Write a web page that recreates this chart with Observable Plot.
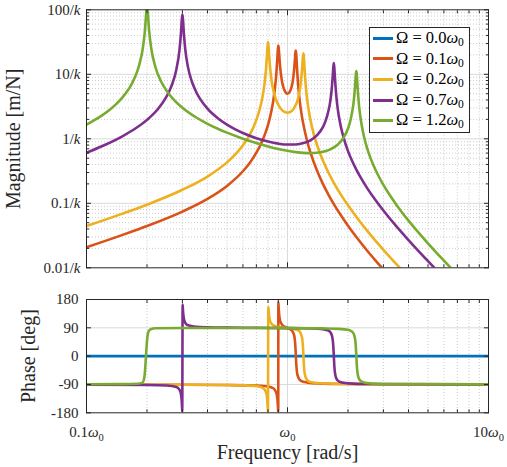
<!DOCTYPE html>
<html>
<head>
<meta charset="utf-8">
<script src="https://cdn.jsdelivr.net/npm/d3@7"></script>
<script src="https://cdn.jsdelivr.net/npm/@observablehq/plot@0.6"></script>
<style>
  html, body { margin: 0; padding: 0; background: #ffffff; }
  #wrap { position: relative; width: 507px; height: 467px; font-family: "Liberation Serif", "DejaVu Serif", "Times New Roman", serif; color: #262626; }
  #wrap svg { display: block; }
  #wrap svg text { font-family: "Liberation Serif", "DejaVu Serif", "Times New Roman", serif; }
  #legend { position: absolute; left: 369px; top: 27px; width: 101px; box-sizing: border-box; border: 1px solid #262626; background: #fff; padding-bottom: 1px; }
  .row { display: flex; align-items: center; height: 20.6px; }
  .sw { width: 20px; height: 3px; margin-left: 3px; margin-right: 3px; flex: none; }
  .lab { font-size: 16.5px; line-height: 1; white-space: nowrap; color: #000; }
  .lab sub { font-size: 0.7em; vertical-align: -0.25em; line-height: 0; }
</style>
</head>
<body>
<div id="wrap"><div id="mag"></div><div id="phase"></div><div id="legend"></div></div>
<script>
// ---------- data ----------
const omegaLabels = ["0.0", "0.1", "0.2", "0.7", "1.2"];
const colors = ["#0072BD", "#D95319", "#EDB120", "#7E2F8E", "#77AC30"];

// magnitude (units of 1/k) vs frequency (units of w0); Omega = 0 has zero coupling (not drawn on log axis)
const freqMag01 = [0.1,0.15,0.2,0.3,0.4,0.5,0.6,0.65,0.7,0.75,0.775,0.8,0.825,0.85,0.865,0.88,0.89,0.895,0.9,0.905,0.91,0.92,0.935,0.95,0.975,1.0,1.025,1.05,1.065,1.08,1.09,1.095,1.1,1.105,1.11,1.12,1.135,1.15,1.175,1.2,1.25,1.3,1.4,1.5,1.6,1.7,1.85,2.0,2.25,2.5,2.75,3.0];
const mag01 = [0.0208,0.0321,0.0444,0.0744,0.117,0.186,0.314,0.426,0.608,0.936,1.215,1.65,2.409,3.92,5.87,10.3,17.7,23.8,28,25.1,19.6,12.7,8.39,6.58,5.35,5.0,5.34,6.52,8.28,12.2,17.9,21.7,23.4,20.7,16.3,10.0,5.81,3.9,2.391,1.66,0.9425,0.616,0.325,0.2,0.1355,0.0973,0.064,0.0449,0.02747,0.0182,0.01282,0.0094];

const freqMag02 = [0.1,0.15,0.2,0.3,0.4,0.5,0.55,0.6,0.65,0.675,0.7,0.725,0.75,0.765,0.78,0.79,0.795,0.8,0.805,0.81,0.82,0.835,0.85,0.875,0.9,0.95,1.0,1.05,1.1,1.125,1.15,1.165,1.18,1.19,1.195,1.2,1.205,1.21,1.22,1.235,1.25,1.275,1.3,1.35,1.4,1.5,1.6,1.7,1.85,2.0,2.25,2.5,2.75,3.0,3.5,3.7];
const mag02 = [0.0444,0.0686,0.0952,0.162,0.26,0.431,0.573,0.794,1.175,1.488,1.965,2.773,4.35,6.37,11.0,19.0,26.1,31.5,26.9,20.1,12.3,7.67,5.68,4.11,3.36,2.69,2.53,2.69,3.36,4.07,5.58,7.43,11.3,16.5,19.7,21.2,19.3,15.8,10.3,6.22,4.31,2.756,1.98,1.194,0.816,0.46,0.2976,0.208,0.1341,0.093,0.05618,0.0371,0.02595,0.019,0.0112,0.0093];

const freqMag07 = [0.1,0.12,0.15,0.175,0.2,0.225,0.25,0.265,0.28,0.29,0.295,0.298,0.3,0.302,0.305,0.31,0.32,0.335,0.35,0.4,0.45,0.5,0.55,0.6,0.7,0.8,0.9,1.0,1.1,1.2,1.3,1.4,1.5,1.55,1.6,1.625,1.65,1.665,1.68,1.69,1.7,1.71,1.72,1.735,1.75,1.775,1.8,1.85,1.9,2.0,2.1,2.2,2.35,2.5,2.75,3.0,3.5,4.0,4.5,5.0,5.5];
const mag07 = [0.608,0.7728,1.085,1.443,1.965,2.818,4.5,6.65,11.9,23.5,42.6,69.8,84.6,70.4,43.5,24.4,12.8,7.6,5.45,2.93,2.084,1.657,1.40,1.23,1.021,0.905,0.841,0.814,0.818,0.858,0.948,1.127,1.519,1.925,2.748,3.48,4.95,6.63,9.71,12.86,14.9,12.7,9.44,6.26,4.54,3.045,2.257,1.4595,1.05,0.645,0.4477,0.333,0.2301,0.169,0.1103,0.0772,0.043,0.0269,0.018,0.0127,0.0093];

const freqMag12 = [0.1,0.11,0.12,0.13,0.14,0.15,0.16,0.165,0.175,0.18,0.185,0.19,0.195,0.198,0.2,0.202,0.205,0.21,0.22,0.235,0.25,0.27,0.3,0.35,0.4,0.45,0.5,0.6,0.7,0.8,0.9,1.0,1.1,1.2,1.3,1.4,1.5,1.6,1.7,1.8,1.9,2.0,2.05,2.1,2.125,2.15,2.165,2.18,2.19,2.2,2.21,2.22,2.235,2.25,2.275,2.3,2.35,2.4,2.5,2.6,2.7,2.85,3.0,3.25,3.5,4.0,4.5,5.0,5.5,6.0,6.5];
const mag12 = [1.656,1.96,2.33,2.80,3.42,4.27,5.54,6.44,9.31,11.8,16.0,23.8,45.5,85.8,120,86.6,46.6,25.1,13.1,7.74,5.58,4.13,3.03,2.158,1.709,1.433,1.245,1.005,0.858,0.762,0.696,0.651,0.622,0.605,0.600,0.608,0.629,0.668,0.734,0.844,1.039,1.443,1.854,2.68,3.36,4.71,6.14,8.42,10.26,11.2,10.2,8.28,5.91,4.43,3.045,2.29,1.507,1.095,0.685,0.4837,0.365,0.2578,0.193,0.1295,0.0928,0.0539,0.03468,0.0239,0.0172,0.0129,0.0099];

// phase (deg) vs frequency
const freqPh00 = [0.1, 10];
const ph00 = [0, 0];

const freqPh01 = [0.1,0.3,0.5,0.7,0.8,0.85,0.88,0.89,0.895,0.8995,0.9005,0.905,0.91,0.92,0.95,1.0,1.05,1.08,1.09,1.095,1.1,1.105,1.11,1.12,1.15,1.2,1.3,1.5,2.0,3.0,10];
const ph01 = [-90.3,-90.8,-91.8,-93.4,-96.5,-102.1,-116.4,-134.4,-153.6,-177,171,148.1,129.3,111.4,96.7,89.5,81.9,65.2,46.2,28.1,3,-22.1,-40,-58.7,-75.4,-81.7,-85.2,-87.3,-88.5,-89.2,-89.8];

const freqPh02 = [0.1,0.3,0.5,0.6,0.7,0.75,0.78,0.79,0.795,0.7995,0.8025,0.805,0.81,0.82,0.85,0.9,1.0,1.1,1.15,1.18,1.19,1.195,1.2,1.205,1.21,1.22,1.25,1.3,1.4,1.6,2.0,3.0,10];
const ph02 = [-90.2,-90.8,-91.7,-92.7,-95.2,-99.9,-112.7,-129.7,-149.1,-178,156,146.4,126.8,110.5,97.7,92.9,89.5,85,78.2,60.9,41.7,24.3,1.3,-21.8,-39.1,-58.5,-75.2,-81.9,-85.2,-87.1,-88.3,-89.1,-89.8];

const freqPh07 = [0.1,0.2,0.25,0.28,0.29,0.295,0.298,0.2995,0.3008,0.302,0.305,0.31,0.32,0.35,0.4,0.5,0.7,1.0,1.2,1.4,1.5,1.6,1.65,1.68,1.69,1.7,1.71,1.72,1.75,1.8,1.9,2.0,2.5,10];
const ph07 = [-90.5,-91.5,-93.2,-98.3,-106.4,-120.6,-146.3,-176,164,145.4,119.9,106,98,93.4,91.6,90.7,90,89.2,88.6,87.3,85.6,80.8,71.7,50.4,31.2,0.4,-30.5,-49.8,-71,-80,-84.7,-86.4,-88.5,-89.8];

const freqPh12 = [0.1,0.15,0.18,0.19,0.193,0.195,0.197,0.199,0.201,0.204,0.21,0.22,0.3,0.5,1.0,1.5,1.8,2.0,2.1,2.15,2.18,2.19,2.2,2.21,2.22,2.25,2.3,2.4,2.6,3.0,10];
const ph12 = [-89.5,-89,-87.5,-84,-75,-55,-15,30,62,80,86.5,88.5,89.5,89.5,89.2,88.1,86.7,83.6,77.4,65.9,41.9,24.1,0,-24.3,-42.2,-66,-77.5,-83.5,-86.8,-88.5,-89.8];

// ticks
const xMajor = [0.1, 1, 10];
const xMinor = [0.2,0.3,0.4,0.5,0.6,0.7,0.8,0.9,2,3,4,5,6,7,8,9];
const yMajor = [0.01, 0.1, 1, 10, 100];
const yMinor = [0.02,0.03,0.04,0.05,0.06,0.07,0.08,0.09,0.2,0.3,0.4,0.5,0.6,0.7,0.8,0.9,2,3,4,5,6,7,8,9,20,30,40,50,60,70,80,90];
const phaseTicks = [-180, -90, 0, 90, 180];

// ---------- build ----------
const rows = (fs, vs) => fs.map((f, i) => ({f, v: vs[i]}));
const magSeries = [null, [freqMag01, mag01], [freqMag02, mag02], [freqMag07, mag07], [freqMag12, mag12]];
const phSeries = [[freqPh00, ph00], [freqPh01, ph01], [freqPh02, ph02], [freqPh07, ph07], [freqPh12, ph12]];

const LW = 2.6;
const TICK_FS = 15;
const LABEL_FS = 20;
const gridMinor = {stroke: "#bfbfbf", strokeOpacity: 1, strokeWidth: 0.8, strokeDasharray: "1,2"};
const gridMajor = {stroke: "#dadada", strokeOpacity: 1, strokeWidth: 1};
const font = "'Liberation Serif', 'DejaVu Serif', 'Times New Roman', serif";
const blank = () => "";

function frameTicks(xTicksMajor, xTicksMinor, yTicksMajor, yTicksMinor, yMinorToo) {
  const m = [
    Plot.axisX(xTicksMajor, {anchor: "bottom", tickSize: -5, tickFormat: blank, label: null}),
    Plot.axisX(xTicksMinor, {anchor: "bottom", tickSize: -3, tickFormat: blank, label: null}),
    Plot.axisX(xTicksMajor, {anchor: "top", tickSize: -5, tickFormat: blank, label: null}),
    Plot.axisX(xTicksMinor, {anchor: "top", tickSize: -3, tickFormat: blank, label: null}),
    Plot.axisY(yTicksMajor, {anchor: "right", tickSize: -5, tickFormat: blank, label: null})
  ];
  if (yMinorToo) {
    m.push(Plot.axisY(yTicksMinor, {anchor: "left", tickSize: -3, tickFormat: blank, label: null}));
    m.push(Plot.axisY(yTicksMinor, {anchor: "right", tickSize: -3, tickFormat: blank, label: null}));
  }
  return m;
}

const magPlot = Plot.plot({
  width: 507, height: 280,
  marginTop: 9.3, marginBottom: 12.7, marginLeft: 86, marginRight: 19,
  style: {fontFamily: font, fontSize: "16px", color: "#262626", background: "transparent", overflow: "visible"},
  x: {type: "log", domain: [0.1, 10]},
  y: {type: "log", domain: [0.01, 100]},
  marks: [
    Plot.gridX(xMinor, gridMinor),
    Plot.gridY(yMinor, gridMinor),
    Plot.gridX([1], gridMajor),
    Plot.gridY([0.1, 1, 10], gridMajor),
    ...magSeries.map((s, i) => s ? Plot.line(rows(s[0], s[1]), {x: "f", y: "v", stroke: colors[i], strokeWidth: LW, curve: "monotone-x", clip: true}) : null),
    Plot.frame({stroke: "#262626", strokeWidth: 1}),
    Plot.axisY(yMajor, {anchor: "left", tickSize: -5, tickPadding: 11, tickFormat: d => d + "/k", label: null, fontSize: TICK_FS, fill: "#262626"}),
    ...frameTicks(xMajor, xMinor, yMajor, yMinor, true),
    Plot.text(["Magnitude [m/N]"], {text: d => d, frameAnchor: "left", textAnchor: "middle", lineAnchor: "middle", rotate: -90, dx: -73, fontSize: LABEL_FS, fill: "#262626"})
  ]
});

const phPlot = Plot.plot({
  width: 507, height: 187,
  marginTop: 19, marginBottom: 54.7, marginLeft: 86, marginRight: 19,
  style: {fontFamily: font, fontSize: "16px", color: "#262626", background: "transparent", overflow: "visible"},
  x: {type: "log", domain: [0.1, 10]},
  y: {domain: [-180, 180]},
  marks: [
    Plot.gridX(xMinor, gridMinor),
    Plot.gridX([1], gridMajor),
    Plot.gridY([-90, 0, 90], gridMajor),
    ...phSeries.map((s, i) => Plot.line(rows(s[0], s[1]), {x: "f", y: "v", stroke: colors[i], strokeWidth: LW, curve: "monotone-x", clip: true})),
    Plot.frame({stroke: "#262626", strokeWidth: 1}),
    Plot.axisY(phaseTicks, {anchor: "left", tickSize: -5, tickPadding: 13, tickFormat: d => String(d), label: null, fontSize: TICK_FS, fill: "#262626"}),
    Plot.axisX(xMajor, {anchor: "bottom", tickSize: -5, tickPadding: 19, tickFormat: d => (d === 1 ? "" : d) + "ω0", label: null, fontSize: TICK_FS, fill: "#262626"}),
    ...frameTicks(xMajor, xMinor, phaseTicks, [], false).slice(1),
    Plot.text(["Phase [deg]"], {text: d => d, frameAnchor: "left", textAnchor: "middle", lineAnchor: "middle", rotate: -90, dx: -58, fontSize: LABEL_FS, fill: "#262626"}),
    Plot.text(["Frequency [rad/s]"], {text: d => d, frameAnchor: "bottom", textAnchor: "middle", lineAnchor: "middle", dy: 40, fontSize: LABEL_FS, fill: "#262626"})
  ]
});

function mathify(svg) {
  d3.select(svg).selectAll("text").each(function () {
    const t = this.textContent;
    let m;
    if ((m = t.match(/^(.*)\/k$/))) {
      const sel = d3.select(this);
      sel.text(m[1] + "/");
      sel.append("tspan").attr("font-style", "italic").text("k");
    } else if ((m = t.match(/^(.*)ω0$/))) {
      const sel = d3.select(this);
      sel.text(m[1]);
      sel.append("tspan").attr("font-style", "italic").text("ω");
      sel.append("tspan").attr("font-size", "0.7em").attr("dy", "0.3em").text("0");
    }
  });
}
mathify(magPlot);
mathify(phPlot);
document.getElementById("mag").appendChild(magPlot);
document.getElementById("phase").appendChild(phPlot);

// legend
const legend = d3.select("#legend");
omegaLabels.forEach((lab, i) => {
  const row = legend.append("div").attr("class", "row");
  row.append("span").attr("class", "sw").style("background", colors[i]);
  row.append("span").attr("class", "lab").html(`Ω = ${lab}<i>ω</i><sub>0</sub>`);
});
</script>
</body>
</html>
